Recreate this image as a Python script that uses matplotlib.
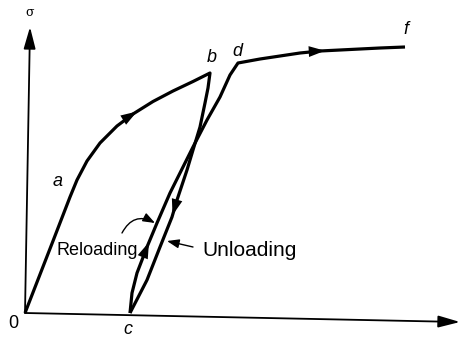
""" Stress-strain sketch: loading, unloading and reloading loop """

import numpy as np
import matplotlib.pyplot as plt

# curve 0 -> a -> b (first loading)
load_x = [0, 28, 45, 52, 62, 75, 92, 108, 128, 148, 168, 185]
load_y = [0, 72, 116, 133, 152, 170, 187, 199, 211.5, 222, 231.5, 240]

# curve b -> c (unloading)
unload_x = [185, 183, 180, 175, 168, 162, 152, 147, 135, 122, 105]
unload_y = [240, 225, 210, 186, 163, 143, 113, 96, 66, 33, 0]

# curve c -> d (reloading)
reload_x = [105, 107, 112, 122, 132, 145, 158, 168, 182, 195, 205, 213]
reload_y = [0, 20, 40, 66, 90, 120, 146, 166, 193, 216, 238, 250]

# curve d -> f (further loading)
harden_x = [213, 235, 255, 275, 295, 315, 335, 355, 380]
harden_y = [250, 254, 257, 260, 262, 263, 264, 265, 266]


def head(ax, xs, ys, t):
    # filled arrow head at fractional index t of a curve, pointing along it
    i = int(t)
    x0, y0, x1, y1 = xs[i], ys[i], xs[i + 1], ys[i + 1]
    f = t - i
    tip = (x0 + f * (x1 - x0), y0 + f * (y1 - y0))
    d = np.hypot(x1 - x0, y1 - y0)
    back = (tip[0] - 4 * (x1 - x0) / d, tip[1] - 4 * (y1 - y0) / d)
    ax.annotate('', xy=tip, xytext=back,
                arrowprops=dict(arrowstyle='-|>,head_length=0.9,head_width=0.3',
                                color='black', lw=0, shrinkA=0, shrinkB=0,
                                mutation_scale=13))


fig = plt.figure(figsize=(4.6, 3.38), dpi=100)
ax = fig.add_axes([0, 0, 1, 1])
ax.set_xlim(-25, 435)
ax.set_ylim(-25, 313)
ax.axis('off')

# axes
axprops = dict(arrowstyle='-|>,head_length=1.1,head_width=0.3', color='black',
               lw=1.3, shrinkA=0, shrinkB=0, mutation_scale=12)
ax.annotate('', xy=(5, 286), xytext=(0, 0), arrowprops=axprops)
ax.annotate('', xy=(435, -9), xytext=(0, 0), arrowprops=axprops)

kw = dict(color='black', lw=2.3, solid_joinstyle='round', solid_capstyle='butt')
ax.plot(load_x + unload_x[1:], load_y + unload_y[1:], **kw)
ax.plot(reload_x + harden_x[1:], reload_y + harden_y[1:], **kw)

head(ax, load_x, load_y, 7.2)
head(ax, unload_x, unload_y, 6.9)
head(ax, reload_x, reload_y, 3.2)
head(ax, harden_x, harden_y, 4.25)

# point labels
lab = dict(fontsize=13, style='italic', family='Liberation Sans',
           ha='center', va='center')
ax.text(33, 131, 'a', **lab)
ax.text(187, 255, 'b', **lab)
ax.text(103, -16, 'c', **lab)
ax.text(212, 261, 'd', **lab)
ax.text(381, 283, 'f', **lab)
ax.text(-12, -10, '0', fontsize=13, family='Liberation Sans', ha='center', va='center')
ax.text(5, 301, 'σ', fontsize=9, family='DejaVu Serif', ha='center', va='center')

# loop annotations
ax.text(32, 58, 'Reloading', fontsize=13, family='Liberation Sans', va='baseline')
ax.text(177, 57, 'Unloading', fontsize=15, family='Liberation Sans', va='baseline')
ax.annotate('', xy=(142, 72), xytext=(168, 66),
            arrowprops=dict(arrowstyle='-|>,head_length=0.8,head_width=0.3',
                            color='black', lw=1, shrinkA=0, shrinkB=0,
                            mutation_scale=9))
ax.annotate('', xy=(130, 90), xytext=(97, 80),
            arrowprops=dict(arrowstyle='-|>,head_length=0.8,head_width=0.3',
                            color='black', lw=1, shrinkA=0, shrinkB=0,
                            mutation_scale=9, connectionstyle='arc3,rad=-0.5'))

fig.savefig('out.png', dpi=100)
